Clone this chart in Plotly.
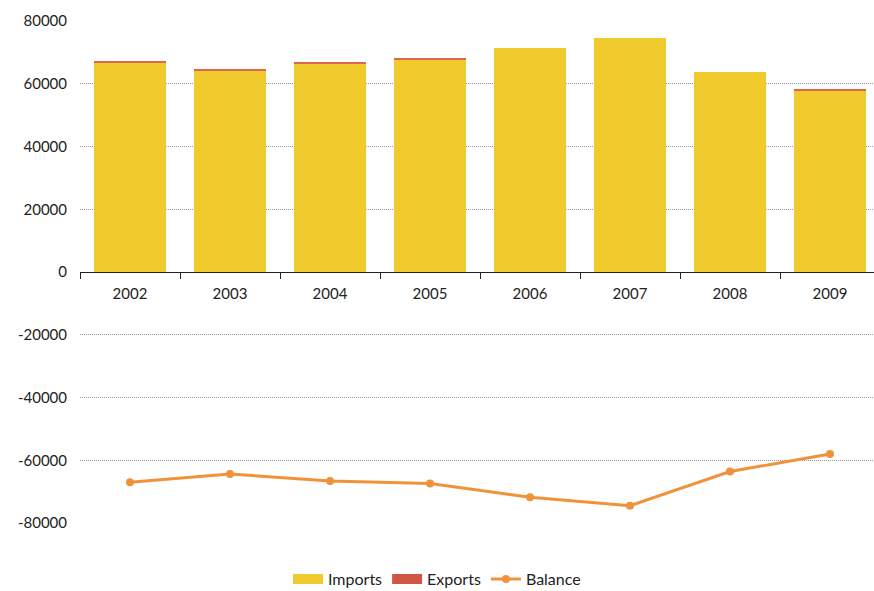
import plotly.graph_objects as go

years = ["2002", "2003", "2004", "2005", "2006", "2007", "2008", "2009"]
imports = [66800, 64200, 66400, 67600, 71500, 74500, 63800, 57800]
exports = [500, 500, 500, 600, 0, 0, 0, 500]
balance = [-67000, -64400, -66600, -67400, -71800, -74500, -63600, -58000]
y_ticks = [-80000, -60000, -40000, -20000, 0, 20000, 40000, 60000, 80000]

FONT = "Lato, 'Open Sans', sans-serif"
C_IMP, C_EXP, C_BAL = "#F0CA2C", "#D9684F", "#F0923A"

fig = go.Figure()
fig.add_trace(go.Bar(x=years, y=imports, name="Imports", marker_color=C_IMP,
                     marker_line_width=0, width=0.72, legendgroup="imp", showlegend=False))
fig.add_trace(go.Bar(x=years, y=exports, name="Exports", marker_color=C_EXP,
                     marker_line_width=0, width=0.72, legendgroup="exp", showlegend=False))
fig.add_trace(go.Scatter(x=years, y=balance, name="Balance", mode="lines+markers",
                         line=dict(color=C_BAL, width=3),
                         marker=dict(color=C_BAL, size=8), showlegend=False,
                         legendgroup="bal"))

# legend entries: wide block swatches for the bar series, line+dot for the balance
fig.add_trace(go.Scatter(x=[None], y=[None], mode="lines", name="Imports",
                         line=dict(color=C_IMP, width=12), legendgroup="imp"))
fig.add_trace(go.Scatter(x=[None], y=[None], mode="lines", name="Exports",
                         line=dict(color="#CF5640", width=12), legendgroup="exp"))
fig.add_trace(go.Scatter(x=[None], y=[None], mode="lines+markers", name="Balance",
                         line=dict(color=C_BAL, width=3),
                         marker=dict(color=C_BAL, size=8), legendgroup="bal"))

fig.update_layout(
    width=874, height=591,
    margin=dict(l=80, r=0, t=21, b=68, autoexpand=False),
    barmode="stack",
    plot_bgcolor="white", paper_bgcolor="white",
    font=dict(family=FONT, size=15, color="#222"),
    showlegend=True,
    legend=dict(orientation="h", xref="container", yref="container",
                x=0.5, xanchor="center", y=0.02, yanchor="middle",
                font=dict(size=16), traceorder="normal", itemwidth=30,
                tracegroupgap=0),
    xaxis=dict(type="category", range=[-0.5, 7.44], anchor="free", position=0.5,
               showline=True, linecolor="#222", linewidth=1,
               ticks="outside", tickson="boundaries", ticklen=6, tickcolor="#222",
               ticklabelstandoff=8,
               showgrid=False, tickfont=dict(size=15)),
    yaxis=dict(range=[-80000, 80000], tickvals=y_ticks, ticktext=[str(v) for v in y_ticks],
               showgrid=True, gridcolor="#999", griddash="1px,1px", gridwidth=1,
               zeroline=False, showline=False, ticks="", ticklabelstandoff=12,
               tickfont=dict(size=15)),
)

fig.write_html("out.html")
